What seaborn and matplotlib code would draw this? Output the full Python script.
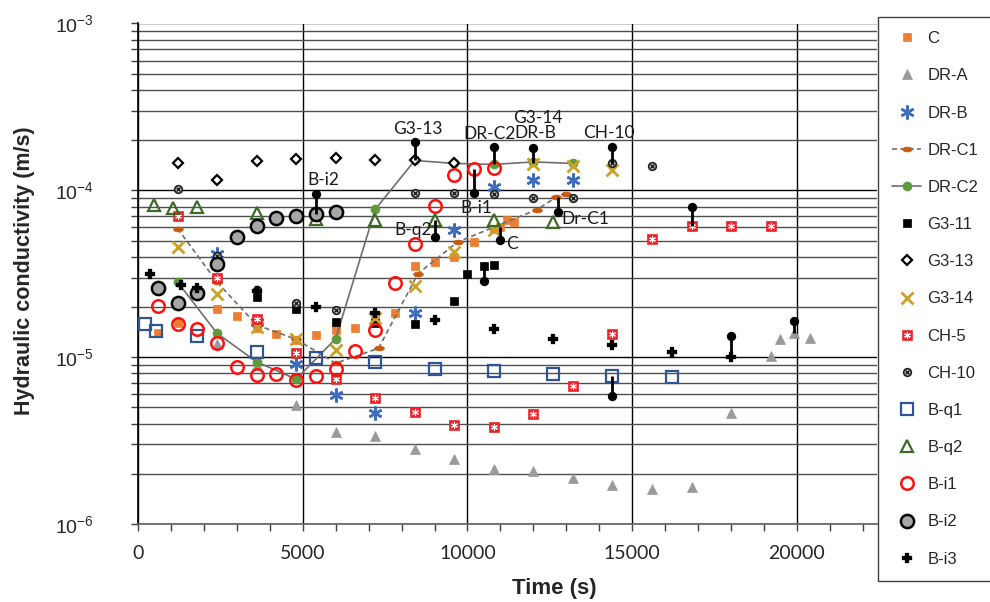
import numpy as np
import matplotlib
matplotlib.use("Agg")
import matplotlib.pyplot as plt
import seaborn as sns
from matplotlib.lines import Line2D
from matplotlib.path import Path
from matplotlib.ticker import MultipleLocator, LogLocator, NullFormatter

# ---------------- data (time in s, hydraulic conductivity in m/s) ----------------
C_t = [600, 1200, 2400, 3000, 3600, 4200, 4800, 5400, 6000, 6600, 7200, 7800, 8400, 9000, 9600, 10200, 10800, 11000, 11200, 11400]
C_k = [1.40e-5, 1.60e-5, 1.94e-5, 1.76e-5, 1.49e-5, 1.37e-5, 1.26e-5, 1.36e-5, 1.45e-5, 1.50e-5, 1.74e-5, 1.85e-5, 3.51e-5, 3.72e-5, 3.99e-5, 4.90e-5, 5.90e-5, 6.05e-5, 6.67e-5, 6.45e-5]

DRA_t = [2400, 3600, 4800, 6000, 7200, 8400, 9600, 10800, 12000, 13200, 14400, 15600, 16800, 18000, 19200, 19500, 19900, 20400]
DRA_k = [1.20e-5, 8.95e-6, 5.16e-6, 3.57e-6, 3.38e-6, 2.81e-6, 2.44e-6, 2.15e-6, 2.08e-6, 1.89e-6, 1.71e-6, 1.61e-6, 1.67e-6, 4.60e-6, 1.01e-5, 1.29e-5, 1.39e-5, 1.31e-5]

DRB_t = [2400, 3600, 4800, 6000, 7200, 8400, 9600, 10800, 12000, 13200]
DRB_k = [4.18e-5, 1.63e-5, 9.16e-6, 5.92e-6, 4.65e-6, 1.84e-5, 5.82e-5, 1.05e-4, 1.16e-4, 1.15e-4]

DRC1_t = [1200, 2400, 3600, 4800, 6000, 7300, 8500, 9700, 12100, 12700, 13000]
DRC1_k = [5.90e-5, 2.82e-5, 1.56e-5, 1.28e-5, 9.20e-6, 1.13e-5, 3.17e-5, 4.90e-5, 7.66e-5, 9.10e-5, 9.55e-5]

DRC2_t = [1200, 2400, 3600, 4800, 6000, 7200, 8400, 9600, 10800, 12000, 13200]
DRC2_k = [2.82e-5, 1.39e-5, 9.37e-6, 7.38e-6, 1.29e-5, 7.69e-5, 1.51e-4, 1.45e-4, 1.43e-4, 1.48e-4, 1.45e-4]

G311_t = [3600, 4800, 6000, 7200, 8400, 9600, 10000, 10500, 10800]
G311_k = [2.29e-5, 1.95e-5, 1.63e-5, 1.60e-5, 1.58e-5, 2.16e-5, 3.17e-5, 3.51e-5, 3.59e-5]

G313_t = [1200, 2400, 3600, 4800, 6000, 7200, 8400, 9600]
G313_k = [1.45e-4, 1.16e-4, 1.50e-4, 1.54e-4, 1.57e-4, 1.53e-4, 1.51e-4, 1.45e-4]

G314_t = [1200, 2400, 3600, 4800, 6000, 7200, 8400, 9600, 10800, 12000, 13200, 14400]
G314_k = [4.57e-5, 2.38e-5, 1.52e-5, 1.29e-5, 1.10e-5, 1.71e-5, 2.67e-5, 4.28e-5, 5.80e-5, 1.43e-4, 1.39e-4, 1.32e-4]

CH5_t = [1200, 2400, 3600, 4800, 6000, 7200, 8400, 9600, 10800, 12000, 13200, 14400, 15600, 16800, 18000, 19200]
CH5_k = [6.98e-5, 3.00e-5, 1.69e-5, 1.06e-5, 7.35e-6, 5.66e-6, 4.71e-6, 3.92e-6, 3.80e-6, 4.56e-6, 6.73e-6, 1.37e-5, 5.10e-5, 6.08e-5, 6.08e-5, 6.08e-5]

CH10_t = [1200, 2400, 3600, 4800, 6000, 8400, 9600, 10800, 12000, 13200, 14400, 15600]
CH10_k = [1.02e-4, 4.04e-5, 2.54e-5, 2.11e-5, 1.91e-5, 9.64e-5, 9.70e-5, 9.55e-5, 9.04e-5, 9.04e-5, 1.45e-4, 1.39e-4]

Bq1_t = [200, 550, 1800, 3600, 5400, 7200, 9000, 10800, 12600, 14400, 16200]
Bq1_k = [1.58e-5, 1.43e-5, 1.34e-5, 1.07e-5, 9.82e-6, 9.37e-6, 8.55e-6, 8.24e-6, 7.97e-6, 7.69e-6, 7.56e-6]

Bq2_t = [500, 1050, 1800, 3600, 5400, 7200, 9000, 10800, 12600]
Bq2_k = [8.20e-5, 7.88e-5, 7.94e-5, 7.35e-5, 6.70e-5, 6.61e-5, 6.68e-5, 6.61e-5, 6.46e-5]

Bi1_t = [600, 1200, 1800, 2400, 3000, 3600, 4200, 4800, 5400, 6000, 6600, 7200, 7800, 8400, 9000, 9600, 10200, 10800]
Bi1_k = [2.03e-5, 1.59e-5, 1.47e-5, 1.22e-5, 8.75e-6, 7.80e-6, 7.98e-6, 7.28e-6, 7.73e-6, 8.55e-6, 1.09e-5, 1.45e-5, 2.80e-5, 4.75e-5, 8.05e-5, 1.23e-4, 1.35e-4, 1.36e-4]

Bi2_t = [600, 1200, 1800, 2400, 3000, 3600, 4200, 4800, 5400, 6000]
Bi2_k = [2.61e-5, 2.11e-5, 2.43e-5, 3.61e-5, 5.25e-5, 6.08e-5, 6.87e-5, 7.02e-5, 7.25e-5, 7.38e-5]

Bi3_t = [360, 1300, 1800, 3600, 5400, 7200, 9000, 10800, 12600, 14400, 16200, 18000]
Bi3_k = [3.15e-5, 2.72e-5, 2.61e-5, 2.50e-5, 2.00e-5, 1.85e-5, 1.67e-5, 1.47e-5, 1.29e-5, 1.19e-5, 1.08e-5, 9.96e-6]

# call-out connectors: time, value at the data point, value at the black dot
ann_t = [5400, 8400, 10800, 12000, 14400, 10200, 9000, 11000, 12750, 16800, 10500, 14400, 18000, 19900]
ann_from = [7.25e-5, 1.51e-4, 1.43e-4, 1.45e-4, 1.45e-4, 1.35e-4, 6.68e-5, 6.05e-5, 9.10e-5, 6.08e-5, 3.51e-5, 7.69e-6, 9.96e-6, 1.39e-5]
ann_dot = [9.55e-5, 1.95e-4, 1.82e-4, 1.79e-4, 1.82e-4, 9.60e-5, 5.25e-5, 5.02e-5, 7.40e-5, 7.90e-5, 2.85e-5, 5.87e-6, 1.34e-5, 1.65e-5]

# call-out texts and their centres
lab_text = ["B-i2", "G3-13", "DR-C2", "DR-B", "G3-14", "CH-10", "B-i1", "B-q2", "C", "Dr-C1"]
lab_t = [5620, 8500, 10680, 12070, 12150, 14290, 10260, 8360, 11340, 13570]
lab_k = [1.16e-4, 2.34e-4, 2.19e-4, 2.20e-4, 2.72e-4, 2.20e-4, 7.88e-5, 5.76e-5, 4.80e-5, 6.77e-5]

x_ticks = [0, 5000, 10000, 15000, 20000]

# ---------------- style ----------------
sns.set_theme(style="white")
plt.rcParams["font.family"] = ["Liberation Sans", "DejaVu Sans"]
plt.rcParams["mathtext.fontset"] = "custom"
plt.rcParams["mathtext.rm"] = "Liberation Sans"
plt.rcParams["mathtext.it"] = "Liberation Sans"

circ = Path.unit_circle()
ellipse = Path(circ.vertices * np.array([1.0, 0.5]), circ.codes)
asterisk = (6, 2, 0)

ORANGE = "#ED7D31"
GREY_TRI = "#9A9A9A"
BLUE = "#3E6DBE"
DARKORANGE = "#C55A11"
GREEN = "#5E9A3A"
GOLD = "#C9A227"
RED = "#E8262B"
NAVY = "#2F5597"
DKGREEN = "#3D6B27"
LINEGREY = "#6E6E6E"

styles = {
    "C": dict(marker="s", ms=6, mfc=ORANGE, mec=ORANGE, mew=0.5, ls="none"),
    "DR-A": dict(marker="^", ms=7, mfc=GREY_TRI, mec=GREY_TRI, mew=0.5, ls="none"),
    "DR-B": dict(marker=asterisk, ms=10, mfc=BLUE, mec=BLUE, mew=1.8, ls="none"),
    "DR-C1": dict(marker=ellipse, ms=7, mfc=DARKORANGE, mec=DARKORANGE, mew=0.5, ls=(0, (3, 2)), color=LINEGREY, lw=1.2),
    "DR-C2": dict(marker="o", ms=6.5, mfc=GREEN, mec=GREEN, mew=0.5, ls="-", color=LINEGREY, lw=1.2),
    "G3-11": dict(marker="s", ms=5.5, mfc="black", mec="black", mew=0.5, ls="none"),
    "G3-13": dict(marker="D", ms=5, mfc="white", mec="black", mew=1.6, ls="none"),
    "G3-14": dict(marker="x", ms=8, mfc=GOLD, mec=GOLD, mew=2.0, ls="none"),
    "CH-5": dict(marker="s", ms=6.8, mfc=RED, mec=RED, mew=0.5, ls="none"),
    "CH-10": dict(marker="o", ms=5.5, mfc="#C8C8C8", mec="#202020", mew=1.2, ls="none"),
    "B-q1": dict(marker="s", ms=8, mfc="none", mec=NAVY, mew=1.6, ls="none"),
    "B-q2": dict(marker="^", ms=8, mfc="none", mec=DKGREEN, mew=1.6, ls="none"),
    "B-i1": dict(marker="o", ms=9, mfc="none", mec="#FF1010", mew=1.8, ls="none"),
    "B-i2": dict(marker="o", ms=9.5, mfc="#A6A6A6", mec="black", mew=1.8, ls="none"),
    "B-i3": dict(marker="P", ms=7.5, mfc="black", mec="black", mew=0.2, ls="none"),
}
overlay = {
    "CH-5": dict(marker=asterisk, ms=4.8, mfc="white", mec="white", mew=0.8, ls="none"),
    "CH-10": dict(marker="x", ms=3.3, mfc="#202020", mec="#202020", mew=1.0, ls="none"),
}

series = [
    ("C", C_t, C_k), ("DR-A", DRA_t, DRA_k), ("DR-B", DRB_t, DRB_k),
    ("DR-C1", DRC1_t, DRC1_k), ("DR-C2", DRC2_t, DRC2_k), ("G3-11", G311_t, G311_k),
    ("G3-13", G313_t, G313_k), ("G3-14", G314_t, G314_k), ("CH-5", CH5_t, CH5_k),
    ("CH-10", CH10_t, CH10_k), ("B-q1", Bq1_t, Bq1_k), ("B-q2", Bq2_t, Bq2_k),
    ("B-i1", Bi1_t, Bi1_k), ("B-i2", Bi2_t, Bi2_k), ("B-i3", Bi3_t, Bi3_k),
]

def expand(st):
    d = dict(st)
    out = {}
    out["marker"] = d.pop("marker")
    out["markersize"] = d.pop("ms")
    out["markerfacecolor"] = d.pop("mfc")
    out["markeredgecolor"] = d.pop("mec")
    out["markeredgewidth"] = d.pop("mew")
    out["linestyle"] = d.pop("ls")
    out.update(d)
    return out

fig = plt.figure(figsize=(9.9, 6.02), dpi=100)
ax = fig.add_axes([138 / 990, 1 - 524 / 602, (877 - 138) / 990, (524 - 23.5) / 602])
ax.set_yscale("log")
ax.set_axisbelow(True)

for i, (name, t, k) in enumerate(series):
    kw = expand(styles[name])
    sns.lineplot(x=t, y=k, estimator=None, sort=False, ax=ax, legend=False, zorder=3 + i * 0.01, **kw)
    if name in overlay:
        sns.lineplot(x=t, y=k, estimator=None, sort=False, ax=ax, legend=False, zorder=3 + i * 0.01 + 0.005, **expand(overlay[name]))

# call-out connectors
for t, a, b in zip(ann_t, ann_from, ann_dot):
    ax.plot([t, t], [a, b], color="black", lw=2.0, zorder=5, solid_capstyle="butt")
sns.scatterplot(x=ann_t, y=ann_dot, color="black", s=45, edgecolor="black", linewidth=0, ax=ax, zorder=6, legend=False)

for s, t, k in zip(lab_text, lab_t, lab_k):
    ax.text(t, k, s, ha="center", va="center", fontsize=12.5, color="#1A1A1A",
            family=["Lato", "DejaVu Sans"], zorder=7)

# axes
ax.set_xlim(0, 22430)
ax.set_ylim(1e-6, 1e-3)
ax.set_xticks(x_ticks)
ax.set_xticklabels([str(v) for v in x_ticks])
ax.xaxis.set_minor_locator(MultipleLocator(1000))
ax.yaxis.set_major_locator(LogLocator(base=10, numticks=10))
ax.yaxis.set_minor_locator(LogLocator(base=10, subs=np.arange(2, 10), numticks=40))
ax.yaxis.set_minor_formatter(NullFormatter())

ax.grid(which="major", axis="y", color="black", lw=1.0)
ax.grid(which="minor", axis="y", color="#4F4F4F", lw=1.0)
ax.grid(which="major", axis="x", color="black", lw=1.0)

ax.tick_params(axis="x", which="both", direction="out", length=5, width=1, color="#404040",
               bottom=True, labelsize=14, pad=10, labelfontfamily="Lato")
ax.tick_params(axis="y", which="both", direction="out", length=5, width=1, color="#404040",
               left=True, labelsize=14, pad=27)

for side in ["top", "right"]:
    ax.spines[side].set_visible(False)
ax.spines["left"].set_color("black")
ax.spines["left"].set_linewidth(1.2)
ax.spines["bottom"].set_color("#606060")
ax.spines["bottom"].set_linewidth(1.2)

ax.set_xlabel("Time (s)", fontsize=16, fontweight="bold")
ax.set_ylabel("Hydraulic conductivity (m/s)", fontsize=15.5, fontweight="bold")
ax.xaxis.set_label_coords(0.564, -0.108)
ax.yaxis.set_label_coords(-0.14, 0.507)

# legend
handles = []
labels = []
for name, _, _ in series:
    h = Line2D([], [], **expand(styles[name]))
    if name in overlay:
        h = (h, Line2D([], [], **expand(overlay[name])))
    handles.append(h)
    labels.append(name)
leg = fig.legend(handles, labels, loc="upper left", bbox_to_anchor=(878 / 990, 1 - 17 / 602),
                 bbox_transform=fig.transFigure, fontsize=12, frameon=True, fancybox=False,
                 edgecolor="#404040", framealpha=1, borderaxespad=0, borderpad=0.85,
                 labelspacing=1.33, handlelength=1.75, handletextpad=0.35)
leg.get_frame().set_linewidth(1.0)

fig.savefig("out.png", dpi=100)
